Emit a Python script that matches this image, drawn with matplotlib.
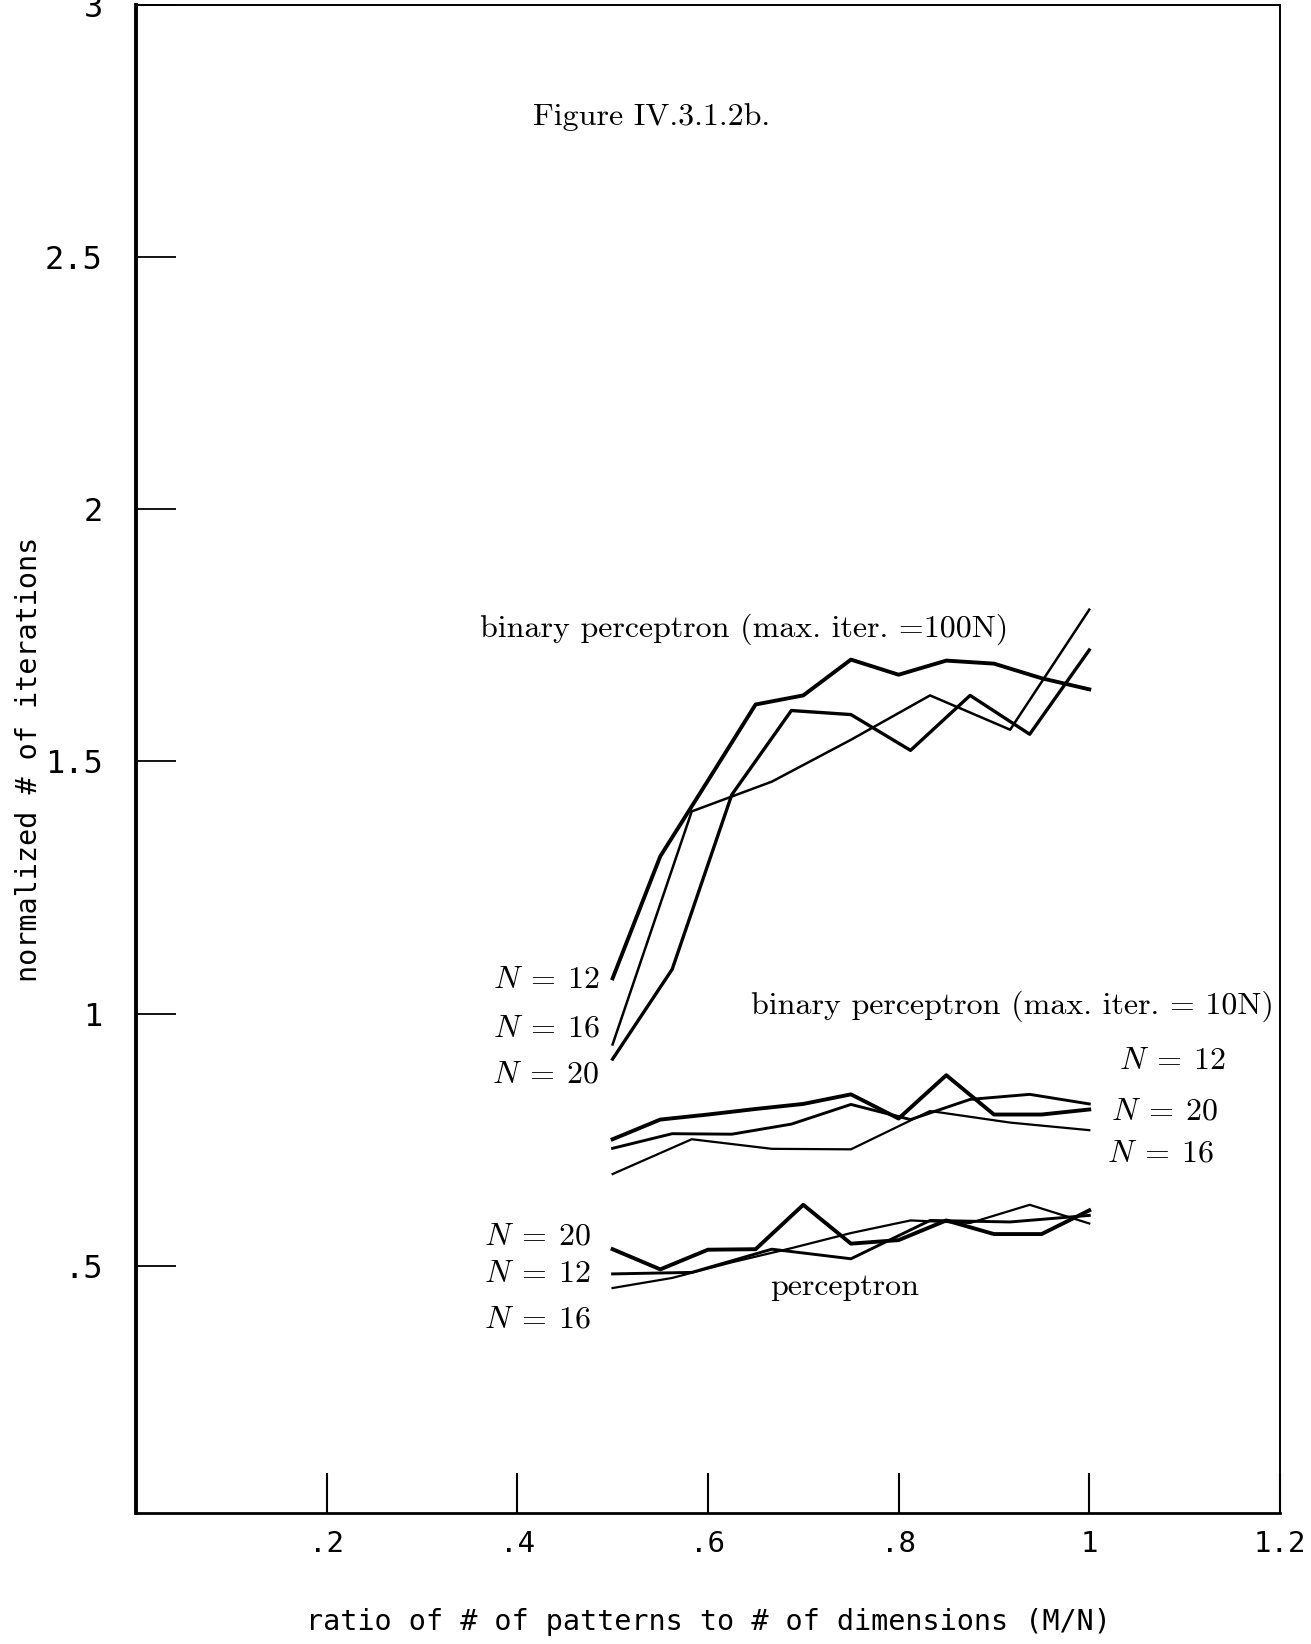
import matplotlib
matplotlib.use("Agg")
import matplotlib.pyplot as plt

# M/N sample points for each problem size
x_n12 = [0.5, 0.583, 0.667, 0.75, 0.833, 0.917, 1.0]
x_n16 = [0.5, 0.5625, 0.625, 0.6875, 0.75, 0.8125, 0.875, 0.9375, 1.0]
x_n20 = [0.5, 0.55, 0.6, 0.65, 0.7, 0.75, 0.8, 0.85, 0.9, 0.95, 1.0]

# binary perceptron, max. iter. = 100N
bp100_n20 = [1.07, 1.312, 1.462, 1.613, 1.631, 1.702, 1.672, 1.70, 1.694, 1.665, 1.643]
bp100_n12 = [0.939, 1.401, 1.46, 1.543, 1.631, 1.563, 1.801]
bp100_n16 = [0.91, 1.088, 1.434, 1.601, 1.593, 1.522, 1.631, 1.554, 1.721]

# binary perceptron, max. iter. = 10N
bp10_n20 = [0.751, 0.79, 0.80, 0.811, 0.821, 0.84, 0.792, 0.878, 0.80, 0.80, 0.81]
bp10_n16 = [0.733, 0.762, 0.761, 0.781, 0.82, 0.79, 0.83, 0.84, 0.821]
bp10_n12 = [0.682, 0.751, 0.732, 0.731, 0.807, 0.784, 0.769]

# perceptron
p_n20 = [0.533, 0.493, 0.532, 0.533, 0.621, 0.544, 0.551, 0.59, 0.563, 0.563, 0.61]
p_n12 = [0.484, 0.487, 0.533, 0.514, 0.59, 0.587, 0.60]
p_n16 = [0.456, 0.476, 0.507, 0.535, 0.565, 0.59, 0.585, 0.621, 0.584]

xticks = [0.2, 0.4, 0.6, 0.8, 1.0, 1.2]
xtick_labels = ['.2', '.4', '.6', '.8', '1', '1.2']
yticks = [0.5, 1.0, 1.5, 2.0, 2.5, 3.0]
ytick_labels = ['.5', '1', '1.5', '2', '2.5', '3']


def main():
    plt.rcParams['mathtext.fontset'] = 'cm'
    fig = plt.figure(figsize=(13.11, 16.44), dpi=100)
    ax = fig.add_axes([0.1037, 0.0797, 0.8726, 0.9173])

    thick, mid, thin = 2.8, 2.1, 1.6
    ax.plot(x_n20, bp100_n20, color='black', lw=thick)
    ax.plot(x_n16, bp100_n16, color='black', lw=mid + 0.3)
    ax.plot(x_n12, bp100_n12, color='black', lw=thin + 0.2)

    ax.plot(x_n20, bp10_n20, color='black', lw=thick)
    ax.plot(x_n16, bp10_n16, color='black', lw=mid)
    ax.plot(x_n12, bp10_n12, color='black', lw=thin)

    ax.plot(x_n20, p_n20, color='black', lw=thick)
    ax.plot(x_n12, p_n12, color='black', lw=mid)
    ax.plot(x_n16, p_n16, color='black', lw=thin)

    ax.set_xlim(0, 1.2)
    ax.set_ylim(0.01, 3.0)

    serif = dict(family='cmr10', size=23, color='black')
    ax.text(0.541, 2.777, 'Figure IV.3.1.2b.', ha='center', va='center', **serif)
    ax.text(0.361, 1.762, 'binary perceptron (max. iter. =100N)', ha='left', va='center', **serif)
    ax.text(0.645, 1.015, 'binary perceptron (max. iter. = 10N)', ha='left', va='center', **serif)
    ax.text(0.665, 0.457, 'perceptron', ha='left', va='center', **serif)

    msize = 23
    for label, yy in [('12', 1.068), ('16', 0.972), ('20', 0.880)]:
        ax.text(0.486, yy, r'$N\:=\:%s$' % label, ha='right', va='center', size=msize)
    for label, yy in [('12', 0.908), ('20', 0.807), ('16', 0.724)]:
        xx = {'12': 1.031, '20': 1.023, '16': 1.019}[label]
        ax.text(xx, yy, r'$N\:=\:%s$' % label, ha='left', va='center', size=msize)
    for label, yy in [('20', 0.559), ('12', 0.484), ('16', 0.394)]:
        ax.text(0.477, yy, r'$N\:=\:%s$' % label, ha='right', va='center', size=msize)

    mono = 'DejaVu Sans Mono'
    ax.set_xticks(xticks)
    ax.set_xticklabels(xtick_labels, family=mono, size=21)
    ax.set_yticks(yticks)
    ax.set_yticklabels(ytick_labels, family=mono, size=23)
    ax.tick_params(axis='x', direction='in', length=29, width=1.5, pad=12)
    ax.tick_params(axis='y', direction='in', length=29, width=1.3, pad=24)

    ax.spines['left'].set_linewidth(2.8)
    ax.spines['bottom'].set_linewidth(2.0)
    ax.spines['top'].set_linewidth(1.4)
    ax.spines['right'].set_linewidth(1.4)

    ax.set_xlabel('ratio of # of patterns to # of dimensions (M/N)',
                  family=mono, size=20.5, labelpad=36)
    ax.set_ylabel('normalized # of iterations', family=mono, size=20.5, labelpad=1)

    fig.savefig('out.png', dpi=100)
    plt.close()


if __name__ == '__main__':
    main()
